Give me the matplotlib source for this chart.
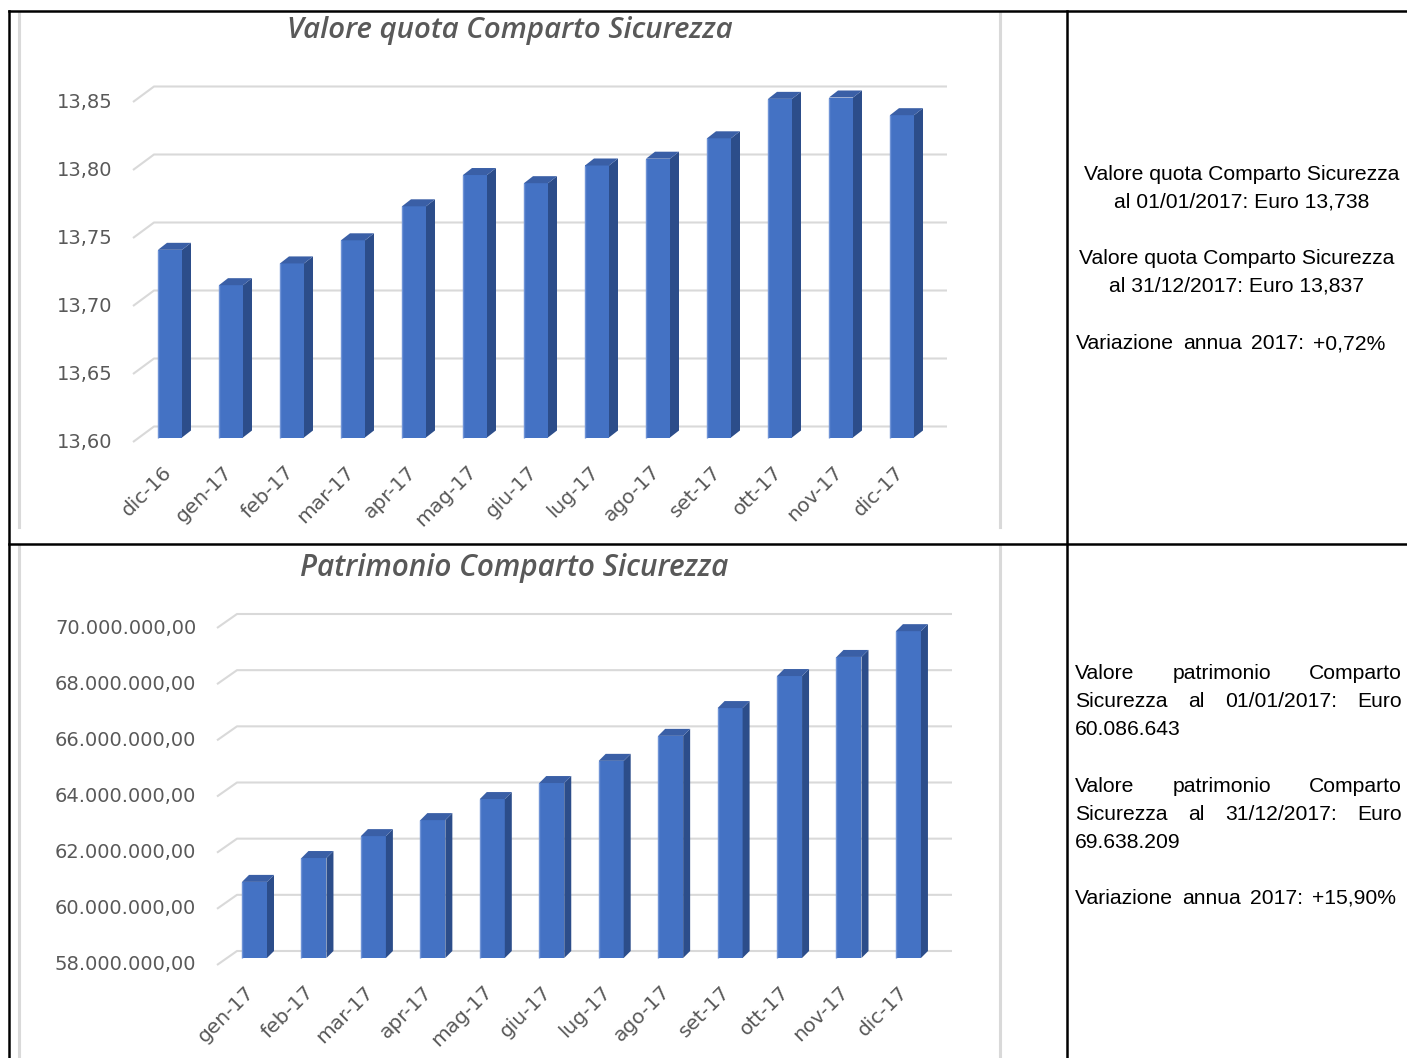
import matplotlib.pyplot as plt
from matplotlib.patches import Polygon
import numpy as np

W, H = 1407, 1058

# dati grafico 1 - valore quota
mesi_quota = ['dic-16', 'gen-17', 'feb-17', 'mar-17', 'apr-17', 'mag-17', 'giu-17',
              'lug-17', 'ago-17', 'set-17', 'ott-17', 'nov-17', 'dic-17']
valori_quota = [13.738, 13.712, 13.728, 13.745, 13.770, 13.793, 13.787,
                13.800, 13.805, 13.820, 13.849, 13.850, 13.837]
tick_quota = [13.60, 13.65, 13.70, 13.75, 13.80, 13.85]
tick_quota_lab = ['13,60', '13,65', '13,70', '13,75', '13,80', '13,85']
titolo_quota = 'Valore quota Comparto Sicurezza'

# dati grafico 2 - patrimonio
mesi_patr = ['gen-17', 'feb-17', 'mar-17', 'apr-17', 'mag-17', 'giu-17',
             'lug-17', 'ago-17', 'set-17', 'ott-17', 'nov-17', 'dic-17']
valori_patr = [60710000, 61560000, 62340000, 62910000, 63660000, 64230000,
               65020000, 65910000, 66900000, 68040000, 68720000, 69638209]
tick_patr = [58e6, 60e6, 62e6, 64e6, 66e6, 68e6, 70e6]
tick_patr_lab = ['58.000.000,00', '60.000.000,00', '62.000.000,00', '64.000.000,00',
                 '66.000.000,00', '68.000.000,00', '70.000.000,00']
titolo_patr = 'Patrimonio Comparto Sicurezza'

# testi a destra
testo_quota = [('Valore quota Comparto Sicurezza', 1242),
               ('al 01/01/2017: Euro 13,738', 1242),
               ('Valore quota Comparto Sicurezza', 1237),
               ('al 31/12/2017: Euro 13,837', 1237)]
testo_quota_var = ['Variazione', 'annua', '2017:', '+0,72%']
testo_patr = [['Valore', 'patrimonio', 'Comparto'],
              ['Sicurezza', 'al', '01/01/2017:', 'Euro'],
              ['60.086.643'],
              ['Valore', 'patrimonio', 'Comparto'],
              ['Sicurezza', 'al', '31/12/2017:', 'Euro'],
              ['69.638.209'],
              ['Variazione', 'annua', '2017:', '+15,90%']]

BLU = '#4472C4'
LATO = '#2C4D8A'
SOPRA = '#3A5FA6'
GRIGIO = '#D9D9D9'
TESTO = '#595959'

fig = plt.figure(figsize=(W / 100, H / 100), dpi=100)
fig.patch.set_facecolor('white')
sfondo = fig.add_axes([0, 0, 1, 1])
sfondo.set_xlim(0, W)
sfondo.set_ylim(H, 0)
sfondo.axis('off')
renderer = fig.canvas.get_renderer()


def grafico(cats, vals, ticks, labels, title, g):
    ax = fig.add_axes([g['xl'] / W, 1 - g['yb'] / H,
                       (g['xr'] - g['xl']) / W, (g['yb'] - g['yt']) / H])
    ax.patch.set_alpha(0)
    ax.axis('off')
    step = g['step']
    x0 = (g['xl'] - g['c0']) / step
    x1 = (g['xr'] - g['c0']) / step
    t0, t1 = ticks[0], ticks[-1]
    ax.set_xlim(x0, x1)
    ax.set_ylim(t0, t1)
    ppy = (g['yb'] - g['yt']) / (t1 - t0)
    dxb = (g['xback'] - g['xl']) / step
    dyb = g['back'] / ppy
    for t, lab in zip(ticks, labels):
        ax.plot([x0, x0 + dxb, x1], [t, t + dyb, t + dyb], color=GRIGIO, lw=1.5,
                clip_on=False, zorder=1, solid_capstyle='butt')
        ax.annotate(lab, (x0, t), xytext=(-15, 0), textcoords='offset points',
                    ha='right', va='center', fontsize=14, color=TESTO,
                    family='DejaVu Sans', annotation_clip=False)
    x = np.arange(len(vals))
    fw = g['fw'] / step
    dx = g['dx'] / step
    dy = g['dy'] / ppy
    base = t0 + g['base'] / ppy
    h = np.array(vals) - t0
    ax.bar(x, h, bottom=base, width=fw, color=BLU, zorder=3, clip_on=False)
    for xi, hi in zip(x, h):
        top = base + hi
        r = xi + fw / 2
        l = xi - fw / 2
        # bordino chiaro a sinistra della faccia frontale
        ax.plot([l, l], [base, top], color='#6F93D6', lw=1.0, zorder=4,
                clip_on=False, solid_capstyle='butt')
        ax.add_patch(Polygon([(r, base), (r + dx, base + dy), (r + dx, top + dy), (r, top)],
                             closed=True, color=LATO, zorder=3, clip_on=False, lw=0))
        ax.add_patch(Polygon([(l, top), (l + dx, top + dy), (r + dx, top + dy), (r, top)],
                             closed=True, color=SOPRA, zorder=3, clip_on=False, lw=0))
    for xi, c in zip(x, cats):
        ax.annotate(c, (xi, t0), xytext=(g['catx'] * 0.72, -g['cat'] * 0.72),
                    textcoords='offset points',
                    rotation=45, rotation_mode='anchor', ha='right', va='top',
                    fontsize=14.5, color=TESTO, family='DejaVu Sans',
                    annotation_clip=False)
    # titolo adattato alla larghezza
    tt = sfondo.text(g['tx'], g['ty'], title, ha='center', va='baseline',
                     fontsize=18, fontweight='semibold', style='italic', color=TESTO,
                     family=['Open Sans', 'DejaVu Sans'])
    w = tt.get_window_extent(renderer).width
    tt.set_fontsize(18 * g['tw'] / w)
    return ax


grafico(mesi_quota, valori_quota, tick_quota, tick_quota_lab, titolo_quota,
        dict(xl=133, xback=154, xr=947, c0=170, step=61, yt=102, yb=442,
             back=15.5, base=4.5, fw=24, dx=9, dy=7, cat=20, catx=-8,
             tx=509.5, ty=38, tw=447))
grafico(mesi_patr, valori_patr, tick_patr, tick_patr_lab, titolo_patr,
        dict(xl=217, xback=237, xr=952, c0=254.5, step=59.45, yt=628, yb=965,
             back=14, base=7, fw=25, dx=7, dy=7, cat=17, catx=-10,
             tx=514, ty=576, tw=430))

# cornici dei grafici (grigio chiaro)
for xv in (19, 1000):
    sfondo.plot([xv, xv], [12, 527], color=GRIGIO, lw=2.2)
    sfondo.plot([xv, xv], [545, H], color=GRIGIO, lw=2.2)

# bordi tabella
k = dict(color='black', lw=1.8, solid_capstyle='projecting')
sfondo.plot([8.5, 8.5], [10.5, H], **k)
sfondo.plot([8.5, W], [10.5, 10.5], **k)
sfondo.plot([8.5, W], [543.5, 543.5], **k)
sfondo.plot([1067, 1067], [10.5, H], **k)

font_dx = dict(fontsize=15.2, color='black', family='Liberation Sans')


def riga(parole, y, xa, xb):
    objs = [sfondo.text(0, y, p, ha='left', va='baseline', **font_dx) for p in parole]
    larg = [o.get_window_extent(renderer).width for o in objs]
    gap = (xb - xa - sum(larg)) / max(len(objs) - 1, 1)
    xx = xa
    for o, w in zip(objs, larg):
        o.set_x(xx)
        xx += w + gap


# testi cella destra in alto
for (r, xc), y in zip(testo_quota, [180, 208, 264, 292]):
    sfondo.text(xc, y, r, ha='center', va='baseline', **font_dx)
riga(testo_quota_var, 349, 1076, 1385)

# testi cella destra in basso (giustificati)
fine = [1402, 1402, None, 1402, 1402, None, 1396]
for parole, y, xb in zip(testo_patr, [679, 707, 735, 792, 820, 848, 904], fine):
    if xb is None:
        sfondo.text(1075, y, parole[0], ha='left', va='baseline', **font_dx)
    else:
        riga(parole, y, 1075, xb)

fig.savefig('out.png', dpi=100, facecolor='white')
